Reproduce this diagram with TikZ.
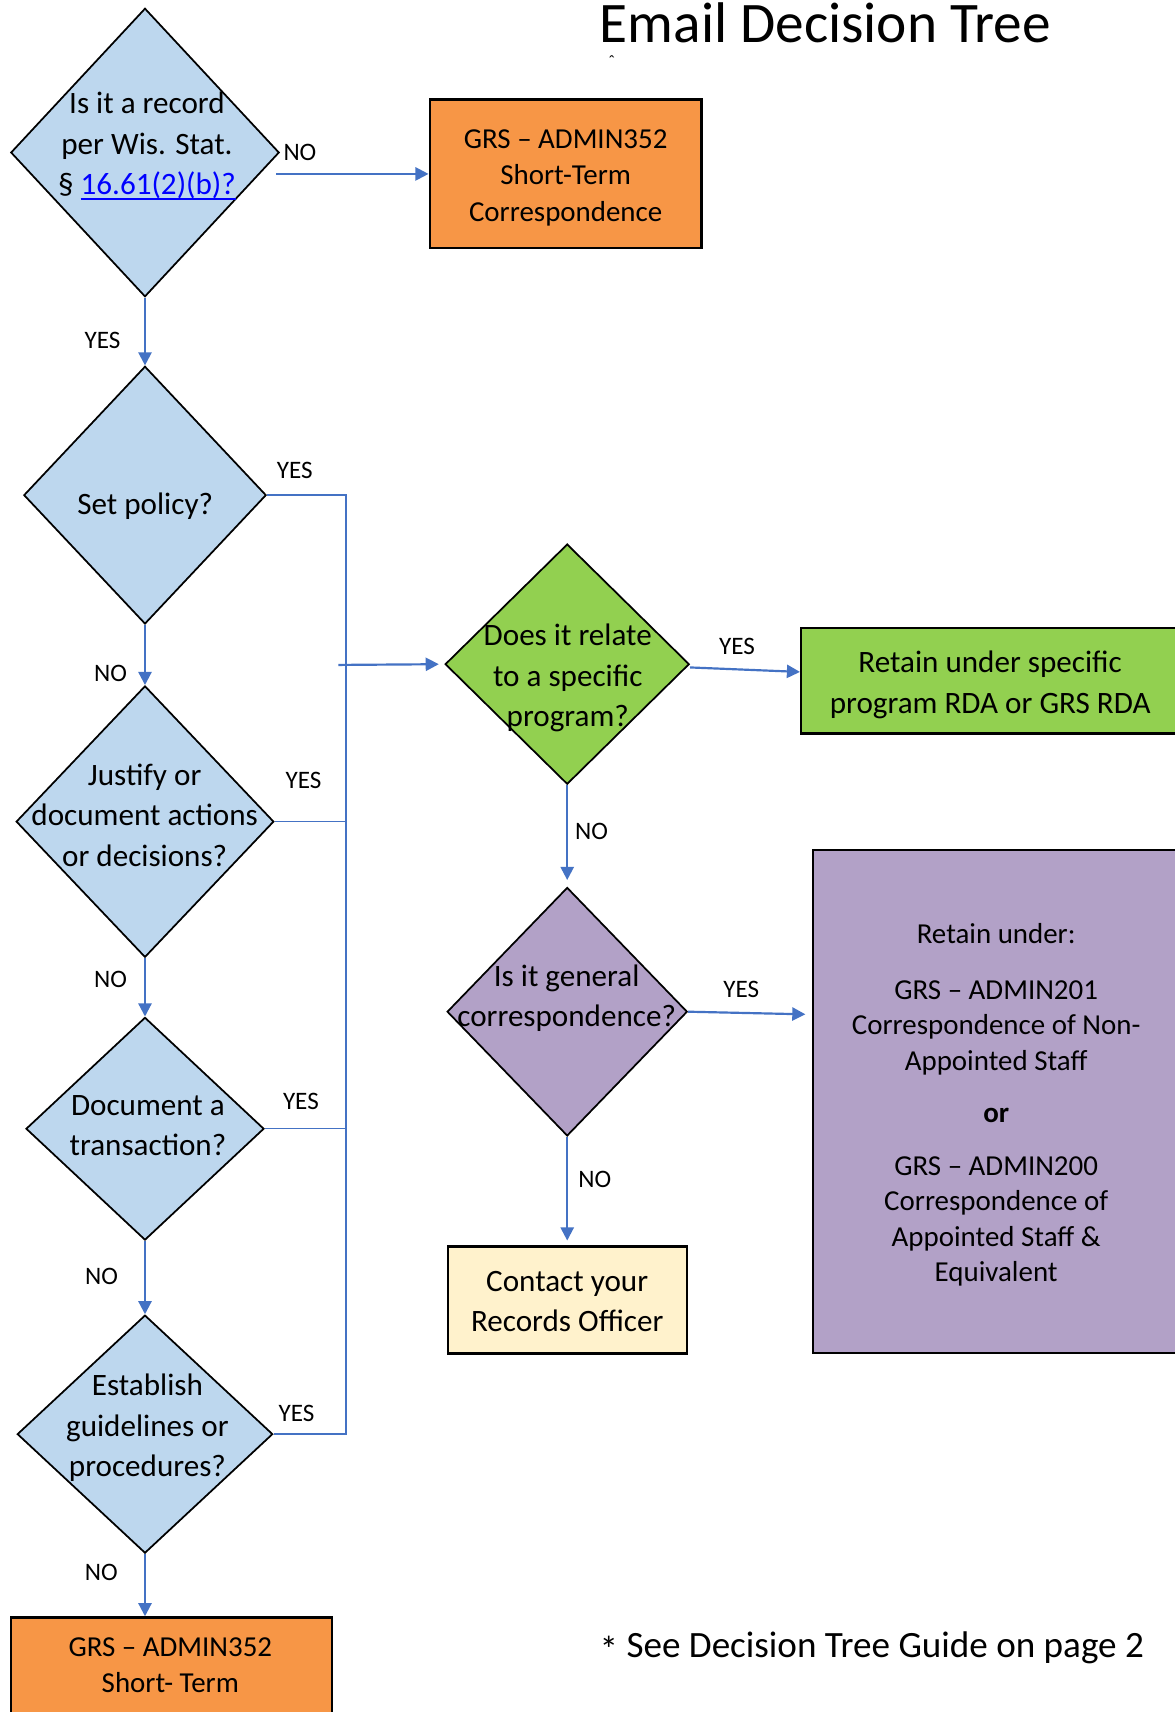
\documentclass[tikz,border=0pt]{standalone}
\usepackage{fontspec}
\setmainfont{Carlito}
\usetikzlibrary{shapes.geometric,arrows.meta,calc}
\definecolor{qblue}{HTML}{BDD7EE}
\definecolor{qorange}{HTML}{F79646}
\definecolor{qgreen}{HTML}{92D050}
\definecolor{qpurple}{HTML}{B2A1C7}
\definecolor{qyellow}{HTML}{FFF2CC}
\definecolor{conn}{HTML}{4472C4}
\definecolor{linkblue}{HTML}{0000FF}
\newcommand\fmain{\fontsize{28.5}{37}\selectfont}
\newcommand\fsmalltxt{\fontsize{26.5}{33}\selectfont}
\newcommand\flabel{\fontsize{23}{27}\selectfont}
\newcommand\ftitle{\fontsize{52.5}{60}\selectfont}
\newcommand\fnote{\fontsize{34}{40}\selectfont}
\newcommand\mylink[1]{{\color{linkblue}\setbox0\hbox{#1}\rlap{\rule[-5.2pt]{\wd0}{1.8pt}}\box0}}
\newcommand\topstrut[1]{\rule{0pt}{#1}}
\begin{document}
\begin{tikzpicture}[x=1pt,y=-1pt,
  dec/.style={diamond, draw=black, line width=1.6pt, inner sep=0pt},
  boxnode/.style={rectangle, draw=black, line width=2.2pt, align=center, inner sep=0pt},
  qtext/.style={align=center, font=\fmain, inner sep=0pt},
  lab/.style={font=\flabel, anchor=base, inner sep=0pt},
  arr/.style={draw=conn, line width=2pt, -{Triangle[length=12pt,width=12pt]}},
  bus/.style={draw=conn, line width=1.2pt},
]
\useasboundingbox (0,0) rectangle (1076,1568);
\clip (0,0) rectangle (1076,1568);
\fill[white] (0,0) rectangle (1076,1568);

% title
\node[font=\ftitle, anchor=base, inner sep=0pt] (title) at (756,39.1) {Email Decision Tree};
\node[font=\fontsize{16}{18}\selectfont, anchor=north, inner sep=0pt] (caret) at (560.3,51) {ˆ};

% decision diamonds
\node[dec, fill=qblue, minimum width=245.8pt, minimum height=264.2pt] (q1) at (132.8,139.7) {};
\node[dec, fill=qblue, minimum width=222pt, minimum height=236pt] (q2) at (132.8,453.5) {};
\node[dec, fill=qblue, minimum width=236pt, minimum height=248.6pt] (q3) at (132.8,752.5) {};
\node[dec, fill=qblue, minimum width=218pt, minimum height=204pt] (q4) at (132.8,1033.8) {};
\node[dec, fill=qblue, minimum width=234pt, minimum height=218pt] (q5) at (132.8,1313.5) {};
\node[dec, fill=qgreen, minimum width=223.6pt, minimum height=220pt] (gd) at (519.5,608.3) {};
\node[dec, fill=qpurple, minimum width=220pt, minimum height=227.6pt] (pd) at (519.5,926.6) {};

% boxes
\node[boxnode, fill=qorange, font=\fsmalltxt, minimum width=249pt, minimum height=136pt] (b1) at (518.1,159.3)
  {\topstrut{24.5pt}GRS – ADMIN352\\Short-Term\\Correspondence};
\node[boxnode, fill=qgreen, font=\fontsize{28.5}{38.2}\selectfont, minimum width=346.2pt, minimum height=96.8pt] (gb) at (906.9,623.4)
  {\topstrut{27.5pt}Retain under specific\\program RDA or GRS RDA};
\node[boxnode, fill=qpurple, font=\fontsize{26.5}{32.6}\selectfont, minimum width=335.3pt, minimum height=460.5pt] (pb) at (912.4,1009)
  {\topstrut{24.5pt}Retain under:\\[18.5pt]GRS – ADMIN201\\Correspondence of Non-\\Appointed Staff\\[14.7pt]\textbf{or}\\[16pt]GRS – ADMIN200\\Correspondence of\\Appointed Staff \&\\Equivalent};
\node[boxnode, fill=qyellow, font=\fontsize{28.5}{37.2}\selectfont, minimum width=218.9pt, minimum height=97.8pt] (yb) at (519.5,1190.7)
  {\topstrut{21.5pt}Contact your\\Records Officer};
\node[boxnode, fill=qorange, anchor=north west, minimum width=293.9pt, minimum height=150pt] (b2) at (8.9,1480.3) {};
\node[font=\fsmalltxt, align=center, inner sep=0pt] (b2t) at (156,1525) {GRS – ADMIN352\\Short- Term};

% diamond texts
\node[qtext] (q1t) at (134.6,134) {Is it a record\\per Wis. Stat.\\§ \mylink{16.61(2)(b)?}};
\node[qtext, anchor=base] (q2t) at (133,471.5) {Set policy?};
\node[qtext] (q3t) at (132.5,746.5) {Justify or\\document actions\\or decisions?};
\node[qtext] (q4t) at (135.5,1030.8) {Document a\\transaction?};
\node[qtext] (q5t) at (135,1307.8) {Establish\\guidelines or\\procedures?};
\node[qtext] (gdt) at (520,621) {Does it relate\\to a specific\\program?};
\node[qtext] (pdt) at (519,914) {Is it general\\correspondence?};

% connectors
\draw[arr] ($(q1.east |- b1.west)+(-3.7,0)$) -- (b1.west);
\draw[arr] (q1.south) -- (q1.south |- q2.north);
\draw[arr] (q2.south) -- (q3.north);
\draw[arr] (q3.south) -- (q4.north);
\draw[arr] (q4.south) -- (q5.north);
\draw[arr] (q5.south) -- (q5.south |- b2.north);

\coordinate (busx) at (317,0);
\coordinate (busout) at (310,609);
\draw[bus] (q2.east) -- (q2.east -| busx) -- (q5.east -| busx) -- (q5.east);
\draw[bus] (q3.east) -- (q3.east -| busx);
\draw[bus] (q4.east) -- (q4.east -| busx);
\draw[arr, shorten >=5pt] (busout) -- (gd.west);

\draw[arr] ($(gd.east)+(0,3)$) -- ([yshift=8pt]gb.west);
\draw[arr, shorten >=6pt] (gd.south) -- (pd.north);
\draw[arr] (pd.east) -- ($(pb.west)+(-6,-80)$);
\draw[arr, shorten >=4.5pt] (pd.south) -- (yb.north);

% labels
\node[lab] (l1) at (274.7,146.6) {NO};
\node[lab] (l2) at (94,319) {YES};
\node[lab] (l3) at (269.9,438.3) {YES};
\node[lab] (l4) at (101.2,624.4) {NO};
\node[lab] (l5) at (278,722) {YES};
\node[lab] (l6) at (101.2,904.7) {NO};
\node[lab] (l7) at (275.6,1015.8) {YES};
\node[lab] (l8) at (93.1,1176.1) {NO};
\node[lab] (l9) at (271.5,1302) {YES};
\node[lab] (l10) at (92.7,1447.3) {NO};
\node[lab] (l11) at (675,599.1) {YES};
\node[lab] (l12) at (541.7,768.8) {NO};
\node[lab] (l13) at (679,913.5) {YES};
\node[lab] (l14) at (544.7,1087.8) {NO};

% footnote
\node[font=\fnote, anchor=base west, inner sep=0pt] (note) at (549,1518.2) {\raisebox{-4pt}{*} See Decision Tree Guide on page 2};
\end{tikzpicture}
\end{document}
